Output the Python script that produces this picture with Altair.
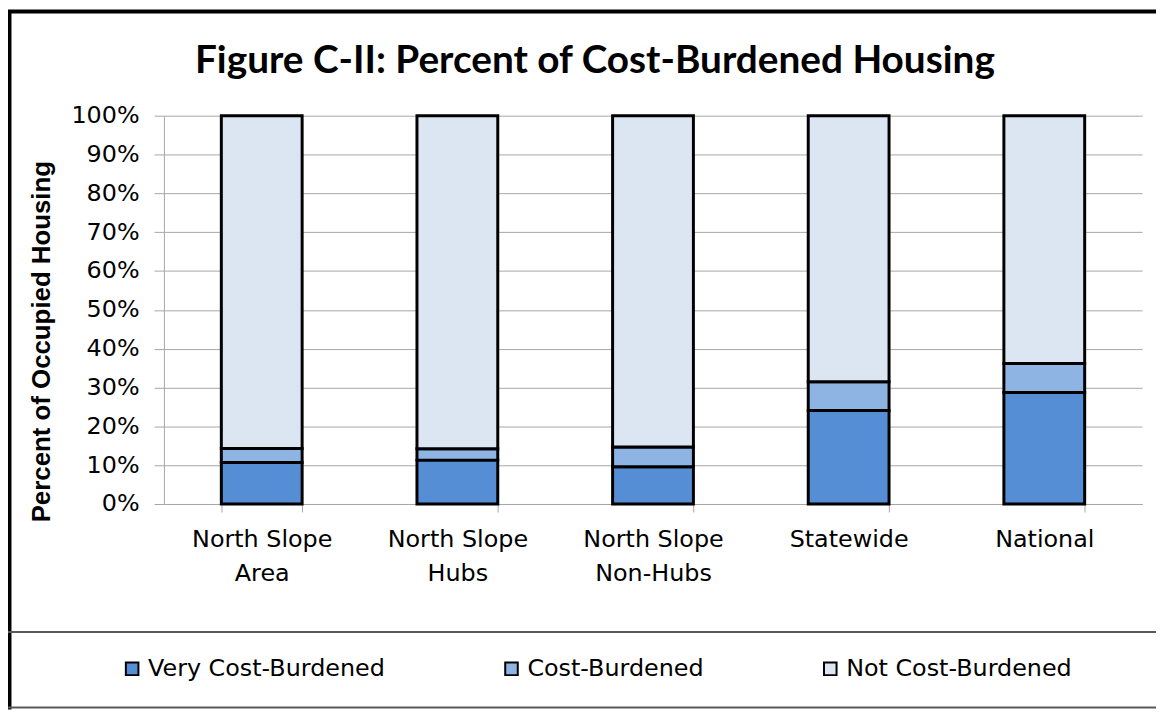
import altair as alt
import pandas as pd

title_text = "Figure C-II: Percent of Cost-Burdened Housing"
categories = ["North Slope|Area", "North Slope|Hubs", "North Slope|Non-Hubs", "Statewide", "National"]
series = ["Very Cost-Burdened", "Cost-Burdened", "Not Cost-Burdened"]
very = [10.7, 11.3, 9.6, 24.1, 28.7]
cost = [3.6, 2.9, 5.1, 7.4, 7.5]
not_cb = [85.7, 85.8, 85.3, 68.5, 63.8]
colors = ["#558ED5", "#8EB4E3", "#DCE6F2"]
y_ticks = [0.0, 0.1, 0.2, 0.3, 0.4, 0.5, 0.6, 0.7, 0.8, 0.9, 1.0]

rows = []
for i, c in enumerate(categories):
    for j, (s, vals) in enumerate(zip(series, [very, cost, not_cb])):
        rows.append({"cat": c, "series": s, "value": vals[i] / 100, "order": j})
df = pd.DataFrame(rows)

W, H = 985, 391
PL, PT, PR, PB = 157, 106, 14, 207

bars = alt.Chart(df).mark_bar(stroke="black", strokeWidth=3).encode(
    x=alt.X("cat:N", sort=categories,
            scale=alt.Scale(paddingInner=0.587, paddingOuter=0.2935),
            axis=alt.Axis(title=None, labelAngle=0, labelExpr="split(datum.label, '|')",
                          tickBand="extent", grid=False, domainColor="#A6A6A6",
                          tickColor="#A6A6A6", tickSize=8, labelPadding=16,
                          labelFont="DejaVu Sans", labelFontSize=24, labelColor="black",
                          labelLineHeight=34)),
    y=alt.Y("value:Q", stack="zero", scale=alt.Scale(domain=[0, 1]),
            axis=alt.Axis(format="%", values=y_ticks, gridColor="#A6A6A6",
                          domainColor="#A6A6A6", tickColor="#A6A6A6", tickSize=10,
                          labelPadding=15, labelFont="DejaVu Sans", labelFontSize=24,
                          labelColor="black", title="Percent of Occupied Housing",
                          titleFont="Liberation Sans", titleFontSize=26,
                          titleFontWeight="bold", titleColor="black", titlePadding=17,
                          titleY=227)),
    color=alt.Color("series:N", sort=series, scale=alt.Scale(domain=series, range=colors),
                    legend=alt.Legend(title=None, orient="none", legendX=-44, legendY=545,
                                      direction="horizontal", columnPadding=115,
                                      labelFont="DejaVu Sans", labelFontSize=24,
                                      labelColor="black", labelLimit=0, symbolType="square",
                                      symbolSize=160, symbolStrokeColor="black",
                                      symbolStrokeWidth=2, labelOffset=4)),
    order=alt.Order("order:Q"),
)

dummy = pd.DataFrame({"k": [0]})
title = alt.Chart(dummy).mark_text(font="Lato", fontSize=39, fontWeight="bold",
                                   color="black", align="center", baseline="alphabetic").encode(
    x=alt.value(434), y=alt.value(-43), text=alt.value(title_text))
top = alt.Chart(dummy).mark_rule(color="black", strokeWidth=4).encode(
    x=alt.value(-PL), x2=alt.value(W + PR), y=alt.value(-PT + 1))
left = alt.Chart(dummy).mark_rule(color="black", strokeWidth=5).encode(
    x=alt.value(-PL + 1), y=alt.value(-PT), y2=alt.value(H + PB))
mid = alt.Chart(dummy).mark_rule(color="#595959", strokeWidth=2).encode(
    x=alt.value(-PL), x2=alt.value(W + PR), y=alt.value(520))
bottom = alt.Chart(dummy).mark_rule(color="#595959", strokeWidth=2).encode(
    x=alt.value(-PL), x2=alt.value(W + PR), y=alt.value(596))

chart = alt.layer(bars, title, top, left, mid, bottom).properties(
    width=W, height=H,
    padding={"left": PL, "top": PT, "right": PR, "bottom": PB},
    autosize="none",
).configure_view(strokeWidth=0)

chart.save("out.html", embed_options={"renderer": "svg", "actions": False})
